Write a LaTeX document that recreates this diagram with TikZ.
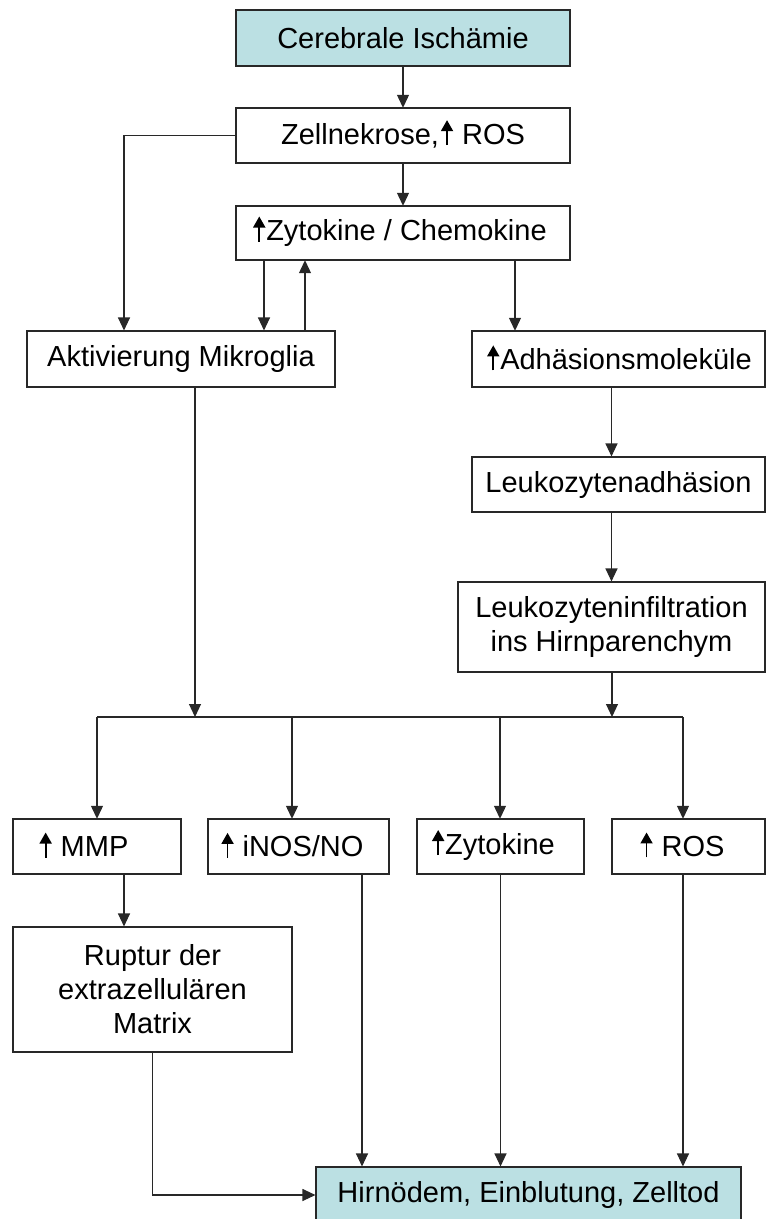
\documentclass[tikz,border=0pt]{standalone}
\usepackage{fontspec}
\setmainfont{Liberation Sans}
\usetikzlibrary{arrows.meta}
\definecolor{teal1}{RGB}{187,224,227}
\definecolor{ln}{RGB}{40,40,40}
% small filled up arrow used in the labels
\newcommand{\uparr}{\hspace{2pt}\tikz[baseline=0pt]{\useasboundingbox (-6pt,0pt) rectangle (6pt,20pt);
	\draw[line width=1.8pt, -{Triangle[width=12pt,length=11pt]}] (0pt,-1pt) -- (0pt,24pt);}\hspace{1pt}}

\begin{document}
\begin{tikzpicture}[x=1pt, y=-1pt, >={Triangle[width=12pt,length=13pt]}, line width=1.1pt]
	\tikzstyle{box}=[draw=ln, inner sep=0pt, align=center, font=\fontsize{29}{34}\selectfont]
	\tikzstyle{hl}=[fill=teal1]
	\tikzstyle{con}=[draw=ln, line width=1.1pt]
	\useasboundingbox (0,0) rectangle (769,1219);

		\node[box, hl, minimum width=334pt, minimum height=56pt] (isch) at (403, 38) {Cerebrale Ischämie};
		\node[box, minimum width=334pt, minimum height=55pt] (nekr) at (403, 135.5) {Zellnekrose,\uparr\ ROS};
		\node[box, minimum width=334pt, minimum height=54pt] (zyto) at (403, 233) {\uparr Zytokine / Chemokine\hspace{8pt}};

		\node[box, minimum width=308pt, minimum height=56pt] (mikro) at (181, 359) {Aktivierung Mikroglia};
		\node[box, minimum width=293pt, minimum height=56pt] (adh) at (618.5, 359) {\uparr Adhäsionsmoleküle};
		\node[box, minimum width=293pt, minimum height=55pt] (ladh) at (618.5, 484.5) {Leukozytenadhäsion};
		\node[box, minimum width=307pt, minimum height=90pt] (infl) at (611.5, 627) {Leukozyteninfiltration\\ins Hirnparenchym};

		\node[box, minimum width=168pt, minimum height=55pt] (mmp) at (97, 846.5) {\uparr\ MMP\hspace{28pt}};
		\node[box, minimum width=181pt, minimum height=55pt] (inos) at (298.5, 846.5) {\uparr\ iNOS/NO\hspace{14pt}};
		\node[box, minimum width=167pt, minimum height=55pt] (zyt) at (500.5, 846.5) {\uparr Zytokine\hspace{16pt}};
		\node[box, minimum width=153pt, minimum height=55pt] (ros) at (688.5, 846.5) {\uparr\ ROS\hspace{14pt}};

		\node[box, minimum width=279pt, minimum height=125pt] (rupt) at (152.5, 989.5) {Ruptur der\\extrazellulären\\Matrix};
		\node[box, hl, minimum width=425pt, minimum height=56pt] (tod) at (528.5, 1195) {Hirnödem, Einblutung, Zelltod};

		\coordinate (bm) at (195, 717);
		\coordinate (bi) at (612, 717);
		\coordinate (b1) at (97, 717);
		\coordinate (b2) at (292, 717);
		\coordinate (b3) at (500, 717);
		\coordinate (b4) at (683, 717);

		%========================================================================
		% Arrows
		\draw[con, ->] (isch) to (nekr);
		\draw[con, ->] (nekr) to (zyto);
		\draw[con, ->] (nekr.west) -| ([xshift=-57pt]mikro.north);

		\draw[con, ->] ([xshift=83pt]mikro.north |- zyto.south) to ([xshift=83pt]mikro.north);
		\draw[con, ->] ([xshift=124pt]mikro.north) to ([xshift=124pt]mikro.north |- zyto.south);
		\draw[con, ->] ([xshift=-103.5pt]adh.north |- zyto.south) to ([xshift=-103.5pt]adh.north);

		\draw[con, ->] (adh.south -| infl.north) to (ladh.north -| infl.north);
		\draw[con, ->] (ladh.south -| infl.north) to (infl.north);

		\draw[con, ->] (mikro.south -| bm) to (bm);
		\draw[con, ->] (infl.south -| bi) to (bi);
		\draw[con] (b1) to (b4);

		\draw[con, ->] (b1) to (b1 |- mmp.north);
		\draw[con, ->] (b2) to (b2 |- inos.north);
		\draw[con, ->] (b3) to (b3 |- zyt.north);
		\draw[con, ->] (b4) to (b4 |- ros.north);

		\draw[con, ->] ([xshift=27pt]mmp.south) to ([xshift=27pt]mmp.south |- rupt.north);
		\draw[con, ->] ([xshift=63.5pt]inos.south) to ([xshift=63.5pt]inos.south |- tod.north);
		\draw[con, ->] (zyt.south) to (zyt.south |- tod.north);
		\draw[con, ->] (ros.south -| b4) to (b4 |- tod.north);
		\draw[con, ->] (rupt.south) |- (tod.west);
	\end{tikzpicture}
\end{document}
